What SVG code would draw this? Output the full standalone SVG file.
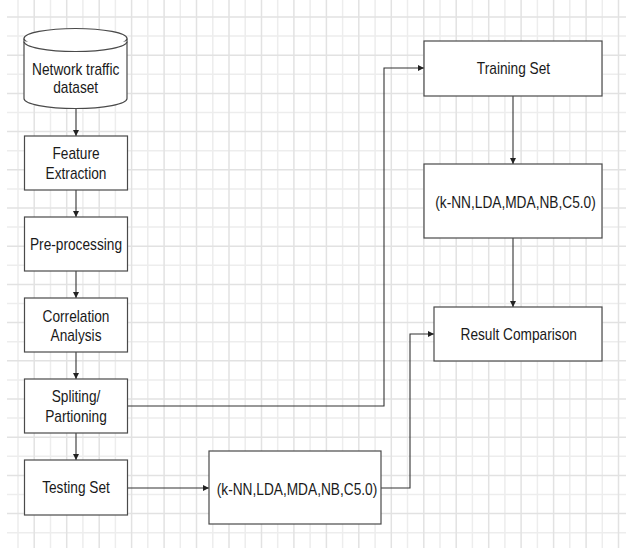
<svg xmlns="http://www.w3.org/2000/svg" width="626" height="548" viewBox="0 0 626 548">
<style>
.gl{stroke:#ededed;stroke-width:1.5;fill:none}
.gd{stroke:#e2e2e2;stroke-width:1.5;fill:none}
.box{fill:#ffffff;stroke:#4a4a4a;stroke-width:1.2}
.lbl{font-family:"Liberation Sans",Arial,Helvetica,sans-serif;font-size:13.7px;fill:#1a1a1a;text-anchor:middle}
.edge{fill:none;stroke:#333333;stroke-width:1.1}
</style>
<defs>
<marker id="ah" markerUnits="userSpaceOnUse" markerWidth="7" markerHeight="7" refX="6" refY="3" orient="auto">
<path d="M0,0 L6,3 L0,6 z" fill="#222222"/>
</marker>
</defs>
<rect x="0" y="0" width="626" height="548" fill="#ffffff"/>
<g id="grid">
<path class="gl" d="M18 0V548M50.5 0V548M82.9 0V548M115.4 0V548M147.8 0V548M180.3 0V548M212.8 0V548M245.2 0V548M277.7 0V548M310.1 0V548M342.6 0V548M375.1 0V548M407.5 0V548M440 0V548M472.4 0V548M504.9 0V548M537.4 0V548M569.8 0V548M602.3 0V548"/>
<path class="gl" d="M7 36.1H626M7 74.3H626M7 112.5H626M7 150.7H626M7 188.9H626M7 227.1H626M7 265.3H626M7 303.5H626M7 341.7H626M7 379.9H626M7 418.1H626M7 456.3H626M7 494.5H626M7 532.7H626"/>
<path class="gd" d="M34.2 0V548M66.7 0V548M99.2 0V548M131.6 0V548M164.1 0V548M196.5 0V548M229 0V548M261.5 0V548M293.9 0V548M326.4 0V548M358.8 0V548M391.3 0V548M423.8 0V548M456.2 0V548M488.7 0V548M521.1 0V548M553.6 0V548M586.1 0V548M618.5 0V548"/>
<path class="gd" d="M7 17H626M7 55.2H626M7 93.4H626M7 131.6H626M7 169.8H626M7 208H626M7 246.2H626M7 284.4H626M7 322.6H626M7 360.8H626M7 399H626M7 437.2H626M7 475.4H626M7 513.6H626"/>
</g>
<g id="connectors">
<path class="edge" d="M76 108.5V136" marker-end="url(#ah)"/>
<path class="edge" d="M76 190V217" marker-end="url(#ah)"/>
<path class="edge" d="M76 271V298" marker-end="url(#ah)"/>
<path class="edge" d="M76 352V379" marker-end="url(#ah)"/>
<path class="edge" d="M76 433V460" marker-end="url(#ah)"/>
<path class="edge" d="M127.5 406H384V68H424" marker-end="url(#ah)"/>
<path class="edge" d="M127.5 488H209" marker-end="url(#ah)"/>
<path class="edge" d="M381 488H410V334H434" marker-end="url(#ah)"/>
<path class="edge" d="M513 96V164" marker-end="url(#ah)"/>
<path class="edge" d="M513 238V307" marker-end="url(#ah)"/>
</g>
<g id="dataset">
<path class="box" d="M24 38.5V98.5A51.5 10 0 0 0 127 98.5V38.5"/>
<ellipse class="box" cx="75.5" cy="38.5" rx="51.5" ry="10"/>
<path class="box" fill="none" d="M24 41.5A51.5 10 0 0 0 127 41.5"/>
<text class="lbl" transform="translate(75.7,75) scale(1,1.18)">Network traffic</text>
<text class="lbl" transform="translate(75.7,93.4) scale(1,1.18)">dataset</text>
</g>
<g id="feature-extraction">
<rect class="box" x="24.5" y="136" width="103" height="54"/>
<text class="lbl" transform="translate(76,158.5) scale(1,1.18)">Feature</text>
<text class="lbl" transform="translate(76,178.5) scale(1,1.18)">Extraction</text>
</g>
<g id="pre-processing">
<rect class="box" x="24.5" y="217" width="103" height="54"/>
<text class="lbl" transform="translate(76,250) scale(1,1.18)">Pre-processing</text>
</g>
<g id="correlation-analysis">
<rect class="box" x="24.5" y="298" width="103" height="54"/>
<text class="lbl" transform="translate(76,322.3) scale(1,1.18)">Correlation</text>
<text class="lbl" transform="translate(76,340.7) scale(1,1.18)">Analysis</text>
</g>
<g id="splitting">
<rect class="box" x="24.5" y="379" width="103" height="54"/>
<text class="lbl" transform="translate(76,402.3) scale(1,1.18)">Spliting/</text>
<text class="lbl" transform="translate(76,421.7) scale(1,1.18)">Partioning</text>
</g>
<g id="testing-set">
<rect class="box" x="24.5" y="460" width="103" height="55"/>
<text class="lbl" transform="translate(76,493.3) scale(1,1.18)">Testing Set</text>
</g>
<g id="classifiers-test">
<rect class="box" x="209" y="451" width="172" height="73"/>
<text class="lbl" transform="translate(297,495) scale(1,1.18)">(k-NN,LDA,MDA,NB,C5.0)</text>
</g>
<g id="training-set">
<rect class="box" x="424" y="41" width="178" height="55"/>
<text class="lbl" transform="translate(513.5,74.3) scale(1,1.18)">Training Set</text>
</g>
<g id="classifiers-train">
<rect class="box" x="424" y="164" width="178" height="74"/>
<text class="lbl" transform="translate(515.5,208.3) scale(1,1.18)">(k-NN,LDA,MDA,NB,C5.0)</text>
</g>
<g id="result-comparison">
<rect class="box" x="434" y="307" width="168" height="54"/>
<text class="lbl" transform="translate(518.7,340) scale(1,1.18)">Result Comparison</text>
</g>
</svg>
